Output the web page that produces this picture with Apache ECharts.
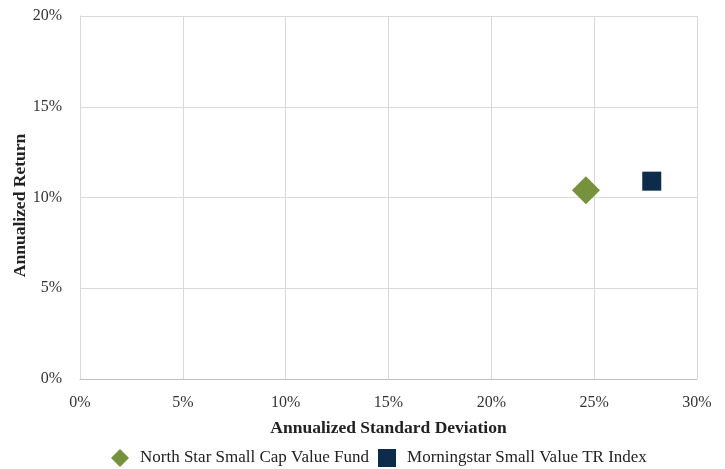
<!DOCTYPE html>
<html><head><meta charset="utf-8">
<script src="https://cdn.jsdelivr.net/npm/echarts@6/dist/echarts.min.js"></script>
<style>html,body{margin:0;padding:0;background:#fff}#c{width:725px;height:469px}</style>
</head><body><div id="c"></div>
<script>
const seriesNames = ['North Star Small Cap Value Fund', 'Morningstar Small Value TR Index'];
const fundPoint = [24.6, 10.4];
const indexPoint = [27.8, 10.9];
const xTicks = [0, 5, 10, 15, 20, 25, 30];
const yTicks = [0, 5, 10, 15, 20];

const font = 'Liberation Serif, DejaVu Serif, serif';
const chart = echarts.init(document.getElementById('c'));
chart.setOption({
  animation: false,
  textStyle: { fontFamily: font },
  grid: { left: 80, right: 28, top: 16, bottom: 90, containLabel: false, outerBoundsMode: 'none' },
  legend: {
    bottom: 2, left: 111, padding: 0, itemGap: 9, itemWidth: 18, itemHeight: 18,
    textStyle: { fontFamily: font, fontSize: 17, color: '#222', padding: [0, 0, 0, 6] },
    data: [
      { name: seriesNames[0], icon: 'diamond', itemStyle: { color: '#76923c', opacity: 1 } },
      { name: seriesNames[1], icon: 'rect', itemStyle: { color: '#0d2b4a', opacity: 1 } }
    ]
  },
  xAxis: {
    type: 'value', min: xTicks[0], max: xTicks[xTicks.length - 1], interval: 5,
    name: 'Annualized Standard Deviation', nameLocation: 'middle', nameGap: 40, nameMoveOverlap: false,
    nameTextStyle: { fontFamily: font, fontWeight: 'bold', fontSize: 17.5, color: '#222' },
    axisLine: { show: true, lineStyle: { color: '#bfbfbf' } },
    axisTick: { show: false },
    axisLabel: { formatter: '{value}%', margin: 16, fontSize: 16, color: '#333', fontFamily: font },
    splitLine: { show: true, lineStyle: { color: '#d9d9d9' } }
  },
  yAxis: {
    type: 'value', min: yTicks[0], max: yTicks[yTicks.length - 1], interval: 5,
    name: 'Annualized Return', nameLocation: 'middle', nameGap: 51, nameMoveOverlap: false,
    nameTextStyle: { fontFamily: font, fontWeight: 'bold', fontSize: 17.5, color: '#222', padding: [0, 16, 0, 0] },
    axisLine: { show: true, lineStyle: { color: '#d9d9d9' } },
    axisTick: { show: false },
    axisLabel: { formatter: '{value}%', margin: 18, fontSize: 16, color: '#333', fontFamily: font },
    splitLine: { show: true, lineStyle: { color: '#d9d9d9' } }
  },
  series: [
    { name: seriesNames[0], type: 'scatter', symbol: 'diamond', symbolSize: [28, 28],
      itemStyle: { color: '#76923c', opacity: 1 }, data: [fundPoint] },
    { name: seriesNames[1], type: 'scatter', symbol: 'rect', symbolSize: 19,
      itemStyle: { color: '#0d2b4a', opacity: 1 }, data: [indexPoint] }
  ]
});
</script>
</body></html>
